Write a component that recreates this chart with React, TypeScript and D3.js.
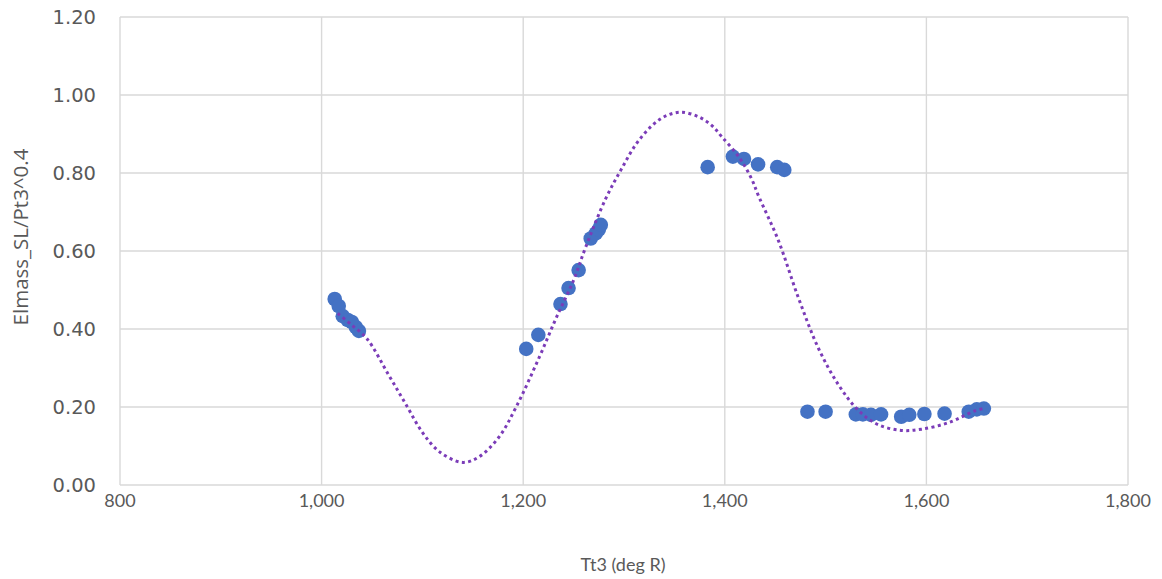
import React from "react";
import * as d3 from "d3";

// Measured samples: turbine inlet temperature vs. corrected mass parameter
const tt3 = [
  1013, 1017, 1021, 1026, 1030, 1034, 1037,
  1203, 1215, 1237, 1245, 1255, 1267, 1272, 1275, 1277,
  1383, 1408, 1419, 1433, 1452, 1459,
  1482, 1500, 1530, 1537, 1545, 1555, 1575, 1583, 1598, 1618, 1642, 1650, 1657,
];
const elmass = [
  0.477, 0.459, 0.433, 0.423, 0.418, 0.405, 0.395,
  0.349, 0.385, 0.464, 0.505, 0.551, 0.632, 0.645, 0.655, 0.667,
  0.815, 0.842, 0.836, 0.822, 0.815, 0.808,
  0.188, 0.188, 0.181, 0.181, 0.18, 0.181, 0.175, 0.18, 0.182, 0.183, 0.188, 0.194, 0.196,
];

// Polynomial trendline, sampled along its length
const trendX = [
  1016, 1030, 1045, 1067, 1084, 1100, 1117, 1140, 1156, 1176, 1193, 1216, 1233, 1250,
  1262, 1282, 1297, 1312, 1328, 1342, 1357, 1374, 1387, 1397, 1414, 1426, 1434, 1453,
  1473, 1493, 1513, 1533, 1552, 1575, 1595, 1622, 1648, 1658,
];
const trendY = [
  0.44, 0.41, 0.375, 0.28, 0.205, 0.135, 0.085, 0.058, 0.072, 0.123, 0.2, 0.328, 0.43, 0.525,
  0.61, 0.735, 0.808, 0.874, 0.922, 0.947, 0.956, 0.944, 0.922, 0.893, 0.841, 0.788, 0.738, 0.628,
  0.48, 0.35, 0.256, 0.19, 0.155, 0.14, 0.143, 0.16, 0.19, 0.197,
];

const xTicks = [800, 1000, 1200, 1400, 1600, 1800];
const yTicks = [0, 0.2, 0.4, 0.6, 0.8, 1.0, 1.2];

const W = 1162;
const H = 579;
const left = 120;
const right = 1128;
const top = 17;
const bottom = 485;

export default function App() {
  const x = d3.scaleLinear().domain([800, 1800]).range([left, right]);
  const y = d3.scaleLinear().domain([0, 1.2]).range([bottom, top]);
  const fmtX = d3.format(",");
  const fmtY = d3.format(".2f");

  const trend = d3
    .line<number>()
    .x((_, i) => x(trendX[i]))
    .y((d) => y(d))
    .curve(d3.curveCatmullRom.alpha(0.5))(trendY);

  const grid = "#d9d9d9";

  return (
    <div style={{ position: "absolute", left: 0, top: 0 }}>
      <svg width={W} height={H} style={{ display: "block", background: "#fff" }}>
        {yTicks.map((t) => (
          <line key={"gy" + t} x1={left} x2={right} y1={y(t)} y2={y(t)} stroke={grid} strokeWidth={1.4} />
        ))}
        {xTicks.map((t) => (
          <line key={"gx" + t} x1={x(t)} x2={x(t)} y1={top} y2={bottom} stroke={grid} strokeWidth={1.4} />
        ))}
        {yTicks.map((t) => (
          <text
            key={"ly" + t}
            x={96}
            y={y(t)}
            dy="0.36em"
            textAnchor="end"
            fontFamily="'DejaVu Sans', sans-serif"
            fontSize={19.5}
            fill="#595959"
          >
            {fmtY(t)}
          </text>
        ))}
        {xTicks.map((t) => (
          <text
            key={"lx" + t}
            x={x(t)}
            y={507}
            textAnchor="middle"
            fontFamily="Lato, sans-serif"
            fontSize={18}
            fill="#595959"
          >
            {fmtX(t)}
          </text>
        ))}
        <text
          x={623}
          y={571}
          textAnchor="middle"
          fontFamily="Lato, sans-serif"
          fontSize={18}
          fill="#595959"
        >
          Tt3 (deg R)
        </text>
        <text
          transform={`translate(28,237) rotate(-90)`}
          textAnchor="middle"
          fontFamily="'Open Sans', sans-serif"
          fontSize={20.5}
          fill="#595959"
        >
          Elmass_SL/Pt3^0.4
        </text>
        {tt3.map((v, i) => (
          <circle key={"p" + i} cx={x(v)} cy={y(elmass[i])} r={7.3} fill="#4472C4" />
        ))}
        <path
          d={trend ?? ""}
          fill="none"
          stroke="#7B3CB8"
          strokeWidth={3}
          strokeDasharray="3 3.4"
        />
      </svg>
    </div>
  );
}
